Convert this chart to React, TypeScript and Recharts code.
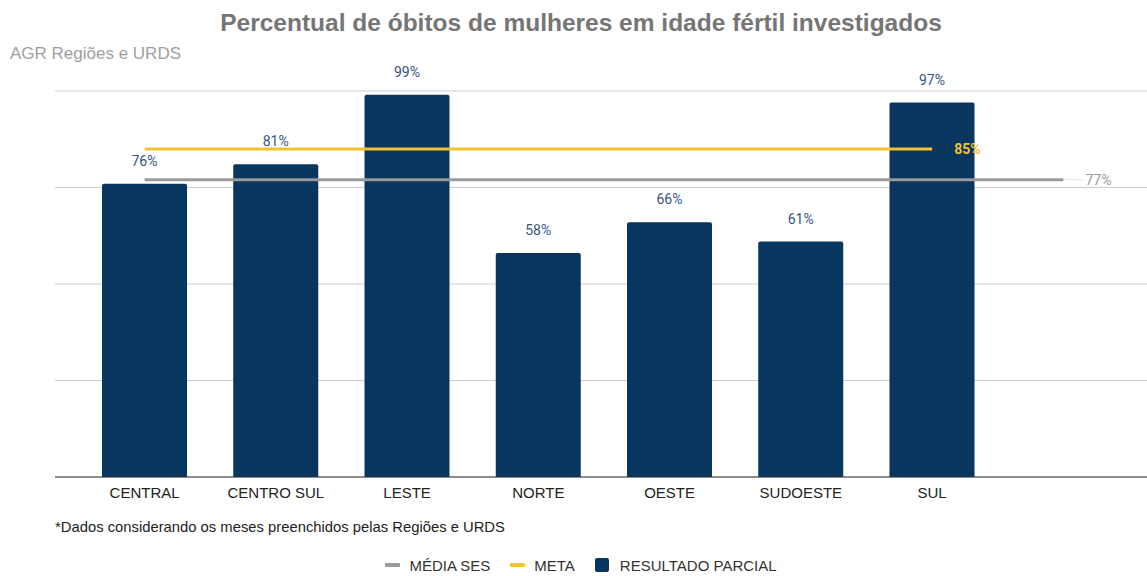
import React from "react"
import {
  ComposedChart,
  Bar,
  Line,
  XAxis,
  YAxis,
  CartesianGrid,
  LabelList,
  Legend,
} from "recharts"

const categories = ["CENTRAL", "CENTRO SUL", "LESTE", "NORTE", "OESTE", "SUDOESTE", "SUL", ""]
const resultadoParcial = [76, 81, 99, 58, 66, 61, 97, null]
const meta = [85, 85, 85, 85, 85, 85, 85, null]
const mediaSes = [77, 77, 77, 77, 77, 77, 77, 77]
const yTicks = [0, 25, 50, 75, 100]

const data = categories.map((name, i) => ({
  name,
  resultado: resultadoParcial[i],
  meta: meta[i],
  media: mediaSes[i],
}))

const FONT = '"Liberation Sans", Arial, sans-serif'
const BAR = "#08365e"
const YELLOW = "#f1c232"
const GRAY = "#9a9a9a"

const legendItems = [
  { key: "media", label: "MÉDIA SES", color: GRAY, shape: "line" },
  { key: "meta", label: "META", color: YELLOW, shape: "line" },
  { key: "resultado", label: "RESULTADO PARCIAL", color: BAR, shape: "square" },
]

function LegendContent() {
  return (
    <div
      style={{
        display: "flex",
        justifyContent: "center",
        alignItems: "center",
        gap: 20,
        height: 20,
        fontFamily: FONT,
        fontSize: 15,
        color: "#333",
      }}
    >
      {legendItems.map((item) => (
        <div key={item.key} style={{ display: "flex", alignItems: "center" }}>
          {item.shape === "line" ? (
            <span style={{ width: 15, height: 4, background: item.color, borderRadius: 1, marginRight: 9 }} />
          ) : (
            <span style={{ width: 14, height: 14, background: item.color, borderRadius: 2, marginRight: 11 }} />
          )}
          <span>{item.label}</span>
        </div>
      ))}
    </div>
  )
}

// label only at the end of a reference line
function endLabel(lastIndex: number, color: string, bold: boolean, leader: boolean) {
  return (props: any) => {
    const { x, y, value, index } = props
    if (index !== lastIndex || value == null) return null
    return (
      <g>
        {leader && <line x1={x + 1} y1={y} x2={x + 19} y2={y} stroke="#e2e2e2" strokeWidth={1} />}
        <text
          x={x + 22}
          y={y}
          dy="0.35em"
          fill={color}
          fontSize={14}
          fontWeight={bold ? 700 : 400}
          fontFamily='Roboto, "Liberation Sans", sans-serif'
        >
          {value}%
        </text>
      </g>
    )
  }
}

function barLabel(props: any) {
  const { x, y, width, value } = props
  if (value == null) return null
  return (
    <text
      x={x + width / 2}
      y={y - 18}
      textAnchor="middle"
      fill="#345681"
      fontSize={14}
      fontFamily='Roboto, "Liberation Sans", sans-serif'
    >
      {value}%
    </text>
  )
}

export default function App() {
  return (
    <div style={{ position: "absolute", left: 0, top: 0, width: 1147, height: 576, background: "#fff" }}>
      <div
        style={{
          position: "absolute",
          left: 0,
          top: 9,
          width: 1162,
          textAlign: "center",
          fontFamily: FONT,
          fontSize: 24.5,
          fontWeight: 700,
          color: "#757575",
          whiteSpace: "nowrap",
        }}
      >
        Percentual de óbitos de mulheres em idade fértil investigados
      </div>
      <div
        style={{
          position: "absolute",
          left: 10,
          top: 44,
          fontFamily: FONT,
          fontSize: 17,
          color: "#9e9e9e",
        }}
      >
        AGR Regiões e URDS
      </div>
      <div
        style={{
          position: "absolute",
          left: 55,
          top: 519,
          fontFamily: FONT,
          fontSize: 14.8,
          color: "#222",
        }}
      >
        *Dados considerando os meses preenchidos pelas Regiões e URDS
      </div>
      <ComposedChart
        width={1147}
        height={576}
        data={data}
        margin={{ top: 91, right: 0, left: 55, bottom: 0 }}
        style={{ position: "absolute", left: 0, top: 0 }}
      >
        <CartesianGrid vertical={false} stroke="#cccccc" />
        <YAxis hide domain={[0, 100]} ticks={yTicks} />
        <XAxis
          dataKey="name"
          height={99}
          padding={{ left: 24, right: 18 }}
          tickLine={false}
          tickMargin={4}
          axisLine={{ stroke: "#333333" }}
          tick={{ fill: "#222222", fontSize: 15, fontFamily: FONT }}
        />
        <Bar
          dataKey="resultado"
          name="RESULTADO PARCIAL"
          fill={BAR}
          barSize={85}
          radius={[2, 2, 0, 0]}
          isAnimationActive={false}
        >
          <LabelList dataKey="resultado" content={barLabel} />
        </Bar>
        <Line
          dataKey="media"
          name="MÉDIA SES"
          type="linear"
          stroke={GRAY}
          strokeWidth={3}
          dot={false}
          activeDot={false}
          isAnimationActive={false}
        >
          <LabelList dataKey="media" content={endLabel(7, GRAY, false, true)} />
        </Line>
        <Line
          dataKey="meta"
          name="META"
          type="linear"
          stroke={YELLOW}
          strokeWidth={3}
          dot={false}
          activeDot={false}
          isAnimationActive={false}
        >
          <LabelList dataKey="meta" content={endLabel(6, YELLOW, true, false)} />
        </Line>
        <Legend
          verticalAlign="middle"
          content={<LegendContent />}
          wrapperStyle={{ top: 555, left: 0, width: 1162 }}
        />
      </ComposedChart>
    </div>
  )
}
